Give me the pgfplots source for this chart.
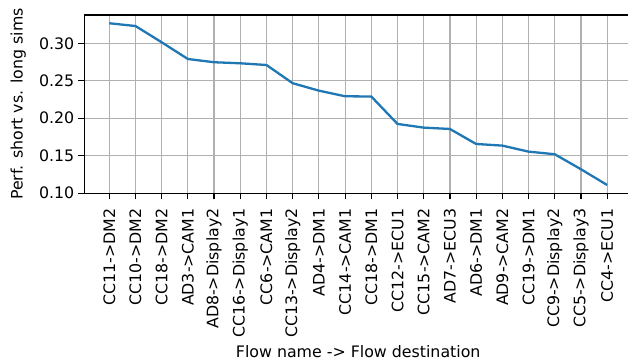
\documentclass[border=0pt]{standalone}
\usepackage{fontspec}
\setmainfont{DejaVu Sans}
\usepackage{pgfplots}
\pgfplotsset{compat=1.18}

\definecolor{mplblue}{HTML}{1F77B4}
\definecolor{gridgray}{HTML}{B0B0B0}

\begin{document}
\fontsize{15.8bp}{19bp}\selectfont
\begin{tikzpicture}
\begin{axis}[
  at={(0,0)}, anchor=south west,
  scale only axis,
  width=547.6bp, height=178.3bp,
  xmin=-0.95, xmax=19.95,
  ymin=0.0999, ymax=0.3377,
  axis line style={black, line width=1.2bp},
  tick style={black, line width=1.2bp},
  tick align=outside,
  major tick length=6bp,
  xtick={0,...,19},
  xticklabels={CC11->DM2, CC10->DM2, CC18->DM2, AD3->CAM1, AD8->Display2,
    CC16->Display1, CC6->CAM1, CC13->Display2, AD4->DM1, CC14->CAM1,
    CC18->DM1, CC12->ECU1, CC15->CAM2, AD7->ECU3, AD6->DM1, AD9->CAM2,
    CC19->DM1, CC9->Display2, CC5->Display3, CC4->ECU1},
  ytick={0.10,0.15,0.20,0.25,0.30},
  yticklabels={0.10,0.15,0.20,0.25,0.30},
  xtick pos=bottom, ytick pos=left,
  grid=major,
  major grid style={gridgray, line width=1.2bp},
  /pgf/number format/assume math mode=true,
  xticklabel style={yshift=-9bp, rotate=90, anchor=east, inner sep=0pt},
  yticklabel style={xshift=-4bp, anchor=east, inner sep=0pt},
  every axis x label/.style={at={(axis description cs:0.5,0)}, yshift=-163.7bp, anchor=base, inner sep=0pt},
  every axis y label/.style={at={(axis description cs:0,0.5)}, xshift=-58.4bp, rotate=90, anchor=south, inner sep=0pt},
  xlabel={Flow name -> Flow destination},
  ylabel={Perf. short vs. long sims},
]
\addplot[mplblue, line width=2.3bp, mark=none] coordinates {
  (0,0.3267) (1,0.3230) (2,0.3013) (3,0.2790) (4,0.2747) (5,0.2733)
  (6,0.2710) (7,0.2467) (8,0.2368) (9,0.2293) (10,0.2290) (11,0.1924)
  (12,0.1875) (13,0.1857) (14,0.1657) (15,0.1635) (16,0.1555) (17,0.1520)
  (18,0.1320) (19,0.1110)
};
\end{axis}
\pgfresetboundingbox
\useasboundingbox (-84.4bp,-170.7bp) rectangle (543.6bp,193.3bp);
\end{tikzpicture}
\end{document}
